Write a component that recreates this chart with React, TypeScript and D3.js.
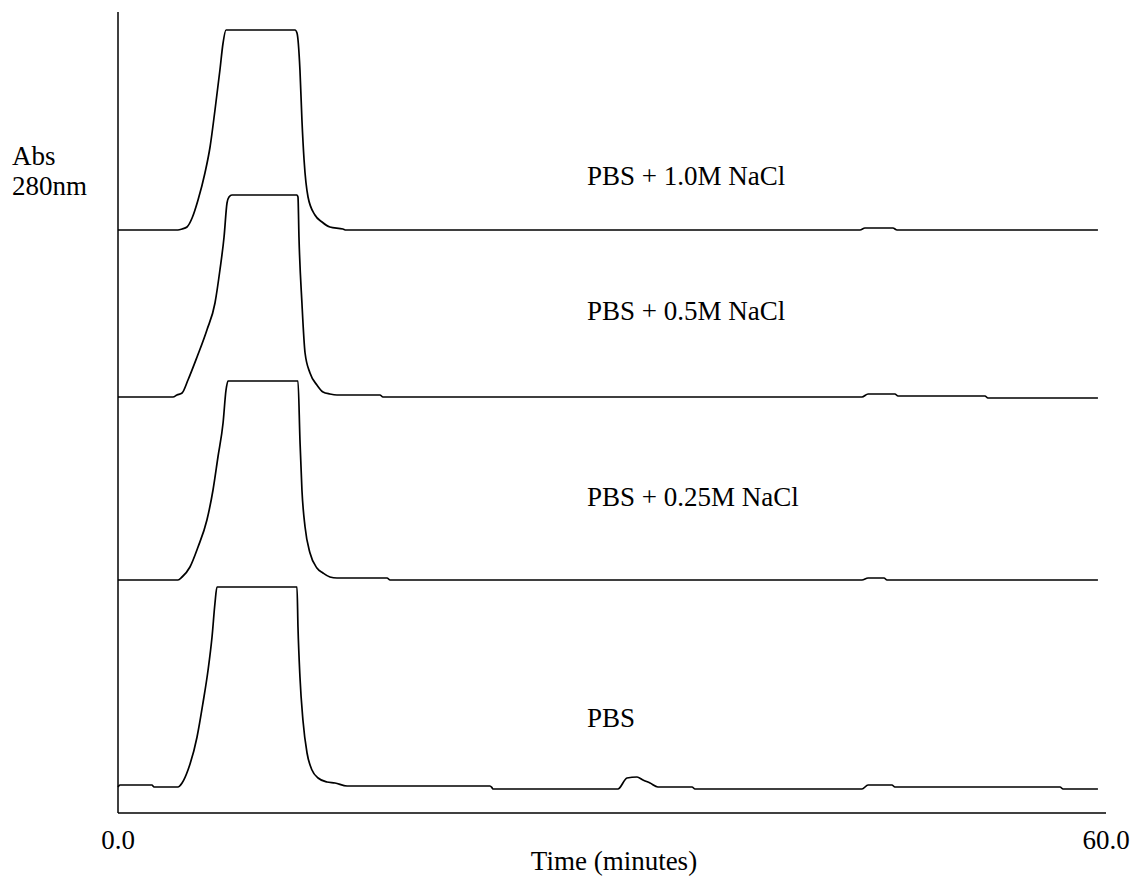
import React from "react";
import * as d3 from "d3";

// Time (min), relative absorbance (saturation ≈ 1.0)
const pbsTrace: [number, number][] = [
  [0, 0], [0.12, 0.01], [2.06, 0.01], [2.19, 0], [3.64, 0], [3.89, 0.02], [4.25, 0.085],
  [4.8, 0.25], [5.16, 0.42], [5.47, 0.585], [5.71, 0.75], [5.89, 0.92], [6.01, 1.0],
  [10.87, 1.0], [10.93, 0.8], [11.05, 0.55], [11.23, 0.335], [11.48, 0.17], [11.78, 0.085],
  [12.15, 0.045], [12.69, 0.025], [13.18, 0.02], [13.91, 0.005], [22.59, 0.005], [22.7, -0.002],
  [22.77, -0.01], [30.36, -0.01], [30.91, 0.045], [31.52, 0.05], [31.88, 0.035], [32.31, 0.02],
  [32.79, 0], [34.86, 0], [35.04, -0.01], [45.18, -0.01], [45.55, 0.01], [47.0, 0.01],
  [47.18, 0], [57.21, 0], [57.39, -0.01], [59.51, -0.01],
];

const nacl025Trace: [number, number][] = [
  [0, 0], [3.64, 0], [3.89, 0.015], [4.37, 0.065], [4.86, 0.165], [5.4, 0.3], [5.77, 0.45],
  [6.07, 0.615], [6.38, 0.785], [6.56, 0.95], [6.68, 0.995], [10.93, 0.995], [11.05, 0.7],
  [11.17, 0.45], [11.36, 0.265], [11.66, 0.135], [12.08, 0.06], [12.45, 0.035], [12.87, 0.015],
  [13.3, 0.01], [16.34, 0.01], [16.52, 0], [45.18, 0], [45.55, 0.01], [46.52, 0.01],
  [46.7, 0], [59.51, 0],
];

const nacl05Trace: [number, number][] = [
  [0, 0], [3.34, 0], [3.58, 0.01], [3.89, 0.02], [4.25, 0.085], [4.8, 0.2], [5.4, 0.335],
  [5.89, 0.47], [6.19, 0.635], [6.44, 0.8], [6.62, 0.97], [6.74, 1.0], [6.92, 1.01],
  [10.87, 1.01], [10.93, 1.0], [10.99, 0.8], [11.17, 0.47], [11.36, 0.22], [11.66, 0.12],
  [12.08, 0.06], [12.45, 0.025], [12.87, 0.015], [13.3, 0.01], [15.91, 0.01], [16.09, 0],
  [45.18, 0], [45.55, 0.015], [47.18, 0.015], [47.37, 0.005], [52.65, 0.005], [52.83, -0.005],
  [59.51, -0.005],
];

const nacl10Trace: [number, number][] = [
  [0, 0], [3.64, 0], [3.89, 0.005], [4.19, 0.015], [4.5, 0.06], [4.86, 0.15], [5.28, 0.285],
  [5.59, 0.415], [5.89, 0.6], [6.19, 0.8], [6.38, 0.935], [6.56, 1.0],
  [10.75, 1.0], [10.87, 0.985], [11.05, 0.8], [11.17, 0.55], [11.3, 0.35], [11.54, 0.165],
  [11.96, 0.075], [12.39, 0.04], [12.87, 0.015], [13.66, 0.005], [13.85, 0], [45.06, 0],
  [45.36, 0.01], [47.06, 0.01], [47.31, 0], [59.51, 0],
];

const seriesNames = ["PBS", "PBS + 0.25M NaCl", "PBS + 0.5M NaCl", "PBS + 1.0M NaCl"];
const seriesOffsets = [0.13, 1.165, 2.08, 2.915];
const seriesData = [pbsTrace, nacl025Trace, nacl05Trace, nacl10Trace];

const xTickLabels = ["0.0", "60.0"];
const xTickValues = [0, 60];

const W = 1140;
const H = 880;
const LEFT = 118;
const RIGHT = 1106;
const AXIS_Y = 813;
const TOP = 12;
const FONT = "'Liberation Serif', 'Times New Roman', serif";
const FS = 27;

// label baselines (pixel layout)
const labelY = [727, 506, 320, 185];

export default function App() {
  const x = d3.scaleLinear().domain([0, 60]).range([LEFT, RIGHT]);
  const y = d3.scaleLinear().domain([0, 4]).range([AXIS_Y, AXIS_Y - 800]);

  return (
    <svg width={W} height={H} style={{ position: "absolute", left: 0, top: 0, background: "#fff" }}>
      <rect x={0} y={0} width={W} height={H} fill="#fff" />
      {seriesData.map((d, i) => {
        const line = d3
          .line<[number, number]>()
          .x((p) => x(p[0]))
          .y((p) => y(p[1] + seriesOffsets[i]))
          .curve(d3.curveMonotoneX);
        return (
          <path key={i} d={line(d) || ""} fill="none" stroke="#000" strokeWidth={1.7} strokeLinejoin="round" />
        );
      })}
      <line x1={LEFT} x2={LEFT} y1={TOP} y2={AXIS_Y} stroke="#000" strokeWidth={1.5} />
      <line x1={LEFT} x2={RIGHT} y1={AXIS_Y} y2={AXIS_Y} stroke="#000" strokeWidth={1.5} />
      {seriesNames.map((n, i) => (
        <text key={n} x={587} y={labelY[i]} fontFamily={FONT} fontSize={FS} fill="#000">
          {n}
        </text>
      ))}
      {xTickValues.map((v, i) => (
        <text key={v} x={x(v)} y={849} textAnchor="middle" fontFamily={FONT} fontSize={FS} fill="#000">
          {xTickLabels[i]}
        </text>
      ))}
      <text x={614} y={870} textAnchor="middle" fontFamily={FONT} fontSize={FS} fill="#000">
        Time (minutes)
      </text>
      <text x={12} y={165} fontFamily={FONT} fontSize={FS} fill="#000">
        Abs
      </text>
      <text x={12} y={195} fontFamily={FONT} fontSize={FS} fill="#000">
        280nm
      </text>
    </svg>
  );
}
